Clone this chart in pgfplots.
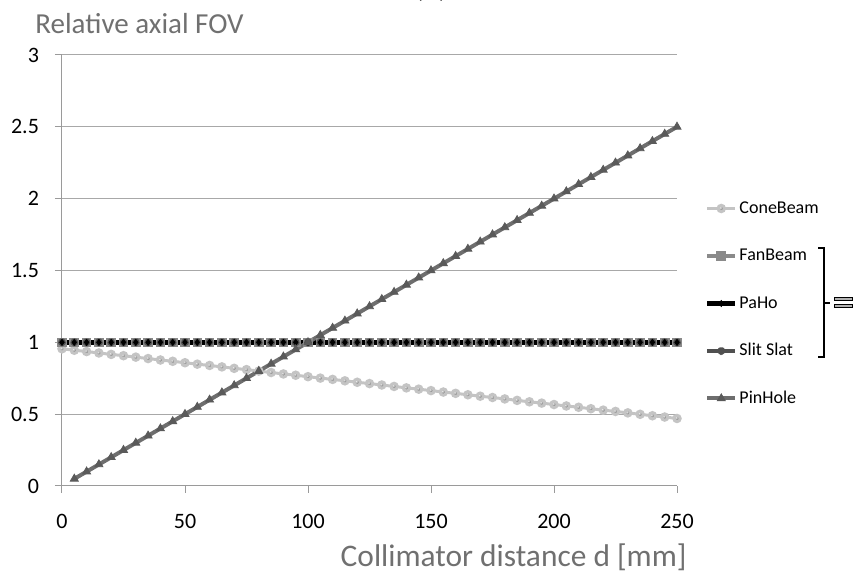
\documentclass[border=0pt]{standalone}
\usepackage{fontspec}
\setmainfont{Carlito}
\usepackage{pgfplots}
\pgfplotsset{compat=1.18}
\usepackage{pgfplotstable}
\usetikzlibrary{plotmarks}

\definecolor{gridgray}{HTML}{A8A8A8}
\definecolor{axisgray}{HTML}{9A9A9A}
\definecolor{labelgray}{HTML}{707070}
\definecolor{conegray}{HTML}{C4C4C4}
\definecolor{fangray}{HTML}{8A8A8A}
\definecolor{slitgray}{HTML}{505050}
\definecolor{pingray}{HTML}{6E6E6E}
\definecolor{pinmark}{HTML}{5A5A5A}

% d in mm; relative axial FOV per collimator type
\pgfplotstableread{
d   cone  fan slit paho pin
0   0.955 1 1 1 nan
5   0.945 1 1 1 0.05
10  0.936 1 1 1 0.10
15  0.926 1 1 1 0.15
20  0.916 1 1 1 0.20
25  0.907 1 1 1 0.25
30  0.897 1 1 1 0.30
35  0.887 1 1 1 0.35
40  0.877 1 1 1 0.40
45  0.868 1 1 1 0.45
50  0.858 1 1 1 0.50
55  0.848 1 1 1 0.55
60  0.839 1 1 1 0.60
65  0.829 1 1 1 0.65
70  0.819 1 1 1 0.70
75  0.810 1 1 1 0.75
80  0.800 1 1 1 0.80
85  0.790 1 1 1 0.85
90  0.780 1 1 1 0.90
95  0.771 1 1 1 0.95
100 0.761 1 1 1 1.00
105 0.751 1 1 1 1.05
110 0.742 1 1 1 1.10
115 0.732 1 1 1 1.15
120 0.722 1 1 1 1.20
125 0.713 1 1 1 1.25
130 0.703 1 1 1 1.30
135 0.693 1 1 1 1.35
140 0.683 1 1 1 1.40
145 0.674 1 1 1 1.45
150 0.664 1 1 1 1.50
155 0.654 1 1 1 1.55
160 0.645 1 1 1 1.60
165 0.635 1 1 1 1.65
170 0.625 1 1 1 1.70
175 0.616 1 1 1 1.75
180 0.606 1 1 1 1.80
185 0.596 1 1 1 1.85
190 0.586 1 1 1 1.90
195 0.577 1 1 1 1.95
200 0.567 1 1 1 2.00
205 0.557 1 1 1 2.05
210 0.548 1 1 1 2.10
215 0.538 1 1 1 2.15
220 0.528 1 1 1 2.20
225 0.519 1 1 1 2.25
230 0.509 1 1 1 2.30
235 0.499 1 1 1 2.35
240 0.489 1 1 1 2.40
245 0.480 1 1 1 2.45
250 0.470 1 1 1 2.50
}\fovdata

\begin{document}
\begin{tikzpicture}
\begin{axis}[
    scale only axis,
    width=307.5pt, height=215.5pt,
    xmin=0, xmax=250, ymin=0, ymax=3,
    xtick={0,50,...,250},
    ytick={0,0.5,...,3},
    axis lines=left,
    axis line style={-, draw=axisgray, line width=0.5pt},
    tick align=outside,
    major tick length=3.5pt,
    tick style={draw=axisgray, line width=0.5pt},
    ymajorgrids=true,
    major grid style={draw=gridgray, line width=0.5pt},
    ticklabel style={font=\fontsize{11}{13}\selectfont, text=black},
    /pgf/number format/assume math mode=true,
    xticklabel style={yshift=-7pt},
    yticklabel style={xshift=-4.5pt, /pgf/number format/.cd, fixed, precision=1},
    xlabel={Collimator distance d [mm]},
    xlabel style={at={(axis description cs:1.0163,-0.187)}, anchor=base east,
        inner sep=0pt, font=\fontsize{15.7}{18}\selectfont, text=labelgray},
    ylabel={Relative axial FOV},
    ylabel style={at={(axis description cs:-0.0439,1.051)}, anchor=base west,
        rotate=-90, inner sep=0pt, font=\fontsize{14.5}{17}\selectfont, text=labelgray},
    legend style={draw=none, fill=none, at={(1.045,0.668)}, anchor=north west,
        font=\fontsize{9}{11}\selectfont, row sep=13.75pt, inner sep=0pt,
        nodes={inner sep=1pt, text height=6.5pt, text depth=1.5pt}},
    legend cell align=left,
    legend image code/.code={
        \draw[mark repeat=2, mark phase=2, #1] plot coordinates {(0pt,0pt) (7pt,0pt) (14pt,0pt)};
    },
]

\addplot[conegray, line width=1.5pt, mark=ball, mark size=1.6pt,
    mark options={ball color=gray!75}] table[x=d, y=cone] {\fovdata};
\addlegendentry{ConeBeam}

\addplot[fangray, line width=2pt, mark=square*, mark size=1.4pt,
    mark options={fill=fangray}] table[x=d, y=fan] {\fovdata};
\addlegendentry{FanBeam}

\addplot[slitgray, line width=2pt, mark=star, mark size=1.8pt, forget plot]
    table[x=d, y=slit] {\fovdata};

\addplot[black, line width=2.2pt, mark=diamond*, mark size=1.5pt,
    mark options={fill=black, line width=0.4pt}] table[x=d, y=paho] {\fovdata};
\addlegendentry{PaHo}

\addlegendimage{slitgray, line width=2pt, mark=star, mark size=1.8pt}
\addlegendentry{Slit Slat}

\addplot[pingray, line width=2pt, mark=triangle*, mark size=2.3pt,
    mark options={fill=pinmark, draw=pinmark, line width=0.4pt}]
    table[x=d, y=pin] {\fovdata};
\addlegendentry{PinHole}
\end{axis}

% bracket grouping FanBeam, PaHo and Slit Slat
\draw[black, line width=1pt] (378pt,119pt) -- (381pt,119pt) -- (381pt,64.5pt) -- (378pt,64.5pt);
\draw[black, line width=1pt] (381pt,91.5pt) -- (384pt,91.5pt);
\draw[black, line width=0.4pt, fill=gray!60] (386pt,92.6pt) rectangle (395pt,94.4pt);
\draw[black, line width=0.4pt, fill=gray!60] (386pt,89.2pt) rectangle (395pt,91pt);

% panel title, mostly cut off at the top edge
\node[anchor=base, inner sep=0pt, font=\fontsize{14.5}{17}\selectfont, text=black!80]
    at (184.5pt,244pt) {(b)};

\pgfresetboundingbox
\useasboundingbox (-31pt,-42.5pt) rectangle (397pt,243pt);
\end{tikzpicture}
\end{document}
